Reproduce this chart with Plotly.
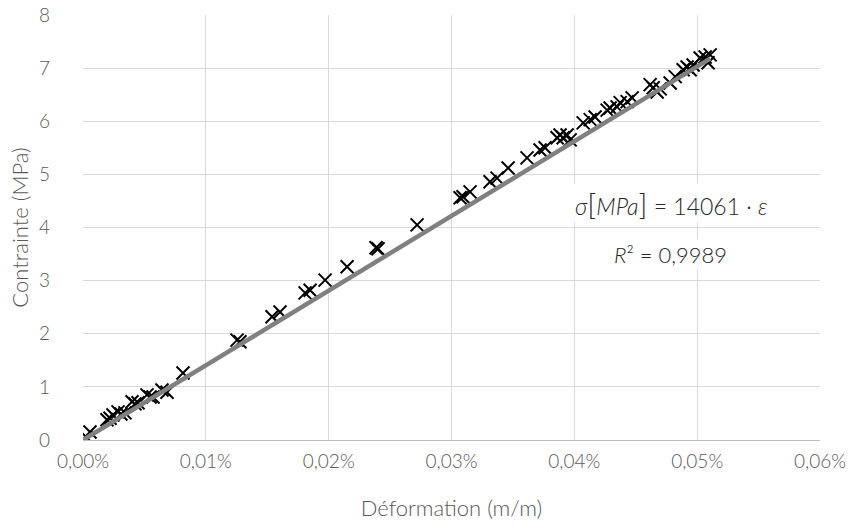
import numpy as np
import plotly.graph_objects as go

# Measured strain (in %) and stress (MPa) for the tensile test
strain_pct = [
    0.0000, 0.00024, 0.00057, 0.00195, 0.00220, 0.00244, 0.00285, 0.00309,
    0.00342, 0.00399, 0.00423, 0.00448, 0.00521, 0.00546, 0.00570, 0.00643,
    0.00684, 0.00814, 0.01254, 0.01278, 0.01539, 0.01604, 0.01808, 0.01849,
    0.01971, 0.02150, 0.02386, 0.02402, 0.02720, 0.03070, 0.03094, 0.03151,
    0.03314, 0.03371, 0.03461, 0.03615, 0.03721, 0.03762, 0.03860, 0.03884,
    0.03909, 0.03941, 0.03966, 0.04072, 0.04129, 0.04169, 0.04267, 0.04291,
    0.04348, 0.04373, 0.04430, 0.04471, 0.04617, 0.04642, 0.04674, 0.04699,
    0.04780, 0.04821, 0.04886, 0.04918, 0.04943, 0.04967, 0.05024, 0.05065,
    0.05089, 0.05106,
]
stress_mpa = [
    0.00, 0.06, 0.15, 0.38, 0.41, 0.47, 0.53, 0.49,
    0.51, 0.72, 0.68, 0.70, 0.85, 0.81, 0.81, 0.94,
    0.90, 1.26, 1.88, 1.85, 2.32, 2.41, 2.77, 2.82,
    3.01, 3.26, 3.62, 3.60, 4.05, 4.56, 4.58, 4.67,
    4.86, 4.93, 5.12, 5.31, 5.46, 5.50, 5.69, 5.74,
    5.69, 5.74, 5.65, 5.97, 6.03, 6.08, 6.21, 6.25,
    6.27, 6.35, 6.37, 6.44, 6.69, 6.63, 6.55, 6.61,
    6.72, 6.84, 6.97, 7.02, 6.97, 7.06, 7.19, 7.21,
    7.10, 7.25,
]

# Linear fit through the origin
modulus_mpa = 14061
r_squared = "0,9989"

x_ticks = [0, 0.0001, 0.0002, 0.0003, 0.0004, 0.0005, 0.0006]
y_ticks = [0, 1, 2, 3, 4, 5, 6, 7, 8]

strain = np.array(strain_pct) / 100.0
stress = np.array(stress_mpa)

fit_x = np.array([0.0, strain.max()])
fit_y = modulus_mpa * fit_x

FONT = "Lato"
GREY = "#595959"
DARK = "#262626"

fig = go.Figure()
fig.add_trace(go.Scatter(
    x=strain, y=stress, mode="markers",
    marker=dict(symbol="x-thin", size=13, color="black",
                line=dict(width=2, color="black")),
    showlegend=False, hoverinfo="x+y",
))
fig.add_trace(go.Scatter(
    x=fit_x, y=fit_y, mode="lines",
    line=dict(color="#808080", width=4.5),
    showlegend=False, hoverinfo="skip",
))

big = "<span style='font-size:30px'>{}</span>"
eq_text = (f"<i>σ</i>{big.format('[')}<i>MPa</i>{big.format(']')}"
           f" = {modulus_mpa} · <i>ε</i>")
fig.add_annotation(
    x=0.0004795, y=4.46, xref="x", yref="y",
    text=eq_text, showarrow=False, bgcolor="white",
    font=dict(family=FONT, size=23, color=DARK, weight=300),
)
fig.add_annotation(
    x=0.000478, y=3.5, xref="x", yref="y",
    text=f"<i>R</i>² = {r_squared}",
    showarrow=False, bgcolor="white",
    font=dict(family=FONT, size=22, color=DARK, weight=300),
)

fig.update_layout(
    width=855, height=530,
    margin=dict(l=83, r=35, t=15, b=90),
    paper_bgcolor="white", plot_bgcolor="white",
    separators=", ",
    font=dict(family=FONT, color=GREY, weight=300),
)
fig.update_xaxes(
    range=[0, 0.0006], tickvals=x_ticks, tickformat=".2%",
    automargin=False,
    showgrid=True, gridcolor="#d9d9d9", gridwidth=1,
    showline=True, linecolor="#bfbfbf", linewidth=1,
    zeroline=False, ticks="", ticklabelstandoff=4,
    tickfont=dict(family=FONT, size=19, color=GREY, weight=300),
    title=dict(text="Déformation (m/m)", standoff=29,
               font=dict(family=FONT, size=22, color=GREY, weight=300)),
)
fig.update_yaxes(
    range=[0, 8], tickvals=y_ticks,
    automargin=False,
    showgrid=True, gridcolor="#d9d9d9", gridwidth=1,
    zeroline=False, showline=False, ticks="", ticklabelstandoff=32,
    tickfont=dict(family=FONT, size=19, color=GREY, weight=300),
    title=dict(text="Contrainte (MPa)", standoff=4,
               font=dict(family=FONT, size=22, color=GREY, weight=300)),
)

fig.write_html("out.html")
